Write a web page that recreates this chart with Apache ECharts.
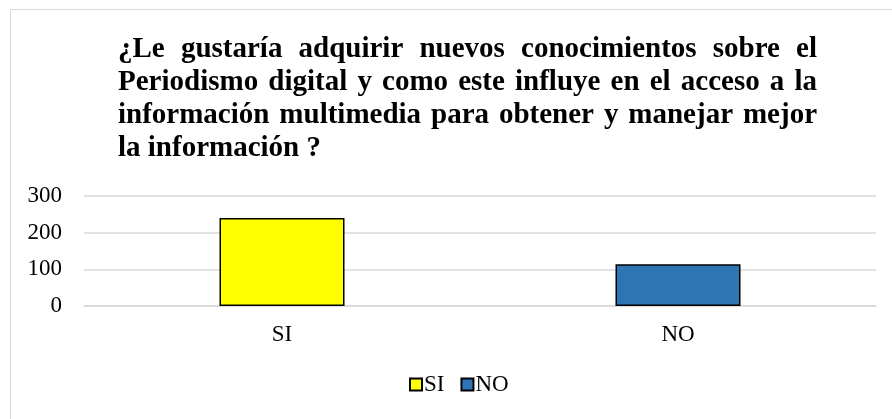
<!DOCTYPE html>
<html>
<head>
<meta charset="utf-8">
<script src="https://cdn.jsdelivr.net/npm/echarts@6/dist/echarts.min.js"></script>
<style>html,body{margin:0;padding:0;background:#fff}#c{width:892px;height:419px}</style>
</head>
<body>
<div id="c"></div>
<script>
var titleLines = [
  '¿Le gustaría adquirir nuevos conocimientos sobre el',
  'Periodismo digital y como este influye en el acceso a la',
  'información multimedia para obtener y manejar mejor',
  'la información ?'
];
var categories = ['SI', 'NO'];
var seriesNames = ['SI', 'NO'];
var siValues = [240, '-'];
var noValues = ['-', 114];
var yTicks = [0, 100, 200, 300];

var FONT = '"Liberation Serif", "Times New Roman", serif';
var titleFont = 'bold 29px ' + FONT;
var ctx = document.createElement('canvas').getContext('2d');
ctx.font = titleFont;

var tLeft = 118, tRight = 817, tTop = 50, tLH = 33;
var graphics = [{
  type: 'rect', shape: {x: 10.5, y: 9.5, width: 900, height: 500},
  style: {fill: 'none', stroke: '#d9d9d9', lineWidth: 1}, silent: true
}];
titleLines.forEach(function (line, i) {
  var y = tTop + i * tLH;
  var words = line.split(' ');
  var last = i === titleLines.length - 1;
  var widths = words.map(function (w) { return ctx.measureText(w).width; });
  var total = widths.reduce(function (a, b) { return a + b; }, 0);
  var gap = last ? ctx.measureText(' ').width : (tRight - tLeft - total) / (words.length - 1);
  var x = tLeft;
  words.forEach(function (w, j) {
    graphics.push({
      type: 'text', x: x, y: y,
      style: {text: w, font: titleFont, fill: '#000', textVerticalAlign: 'middle', textAlign: 'left', verticalAlign: 'middle'},
      silent: true
    });
    x += widths[j] + gap;
  });
});

var chart = echarts.init(document.getElementById('c'));
chart.setOption({
  animation: false,
  graphic: graphics,
  grid: {left: 84, right: 16, top: 196, bottom: 113},
  legend: {
    data: seriesNames, left: 404, top: 368, icon: 'rect', itemWidth: 12, itemHeight: 12, itemGap: 16,
    textStyle: {fontFamily: FONT, fontSize: 23, color: '#000', padding: [0, 0, 0, -3]}
  },
  xAxis: {
    type: 'category', data: categories,
    axisLine: {lineStyle: {color: '#d9d9d9', width: 1.5}},
    axisTick: {show: false},
    axisLabel: {fontFamily: FONT, fontSize: 23, color: '#000', margin: 17}
  },
  yAxis: {
    type: 'value', min: 0, max: 300, interval: 100,
    axisLine: {show: false}, axisTick: {show: false},
    splitLine: {lineStyle: {color: '#d9d9d9', width: 1.5}},
    axisLabel: {fontFamily: FONT, fontSize: 23, color: '#000', margin: 22,
      formatter: function (v) { return yTicks.indexOf(v) >= 0 ? String(v) : ''; }}
  },
  series: [
    {name: seriesNames[0], type: 'bar', stack: 's', barWidth: 125, data: siValues,
     itemStyle: {color: '#ffff00', borderColor: '#000', borderWidth: 1.5}},
    {name: seriesNames[1], type: 'bar', stack: 's', barWidth: 125, data: noValues,
     itemStyle: {color: '#2e75b6', borderColor: '#000', borderWidth: 1.5}}
  ]
});
</script>
</body>
</html>
